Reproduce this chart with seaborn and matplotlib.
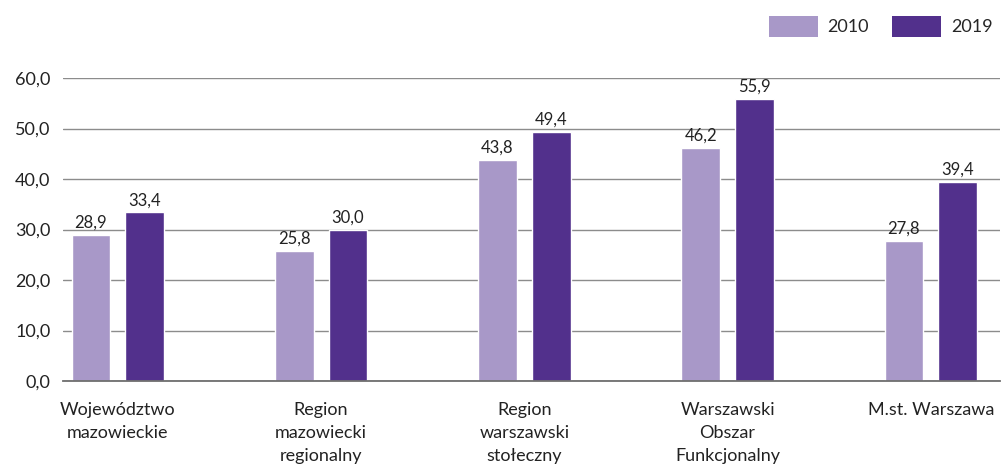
import pandas as pd
import matplotlib
matplotlib.use("Agg")
import matplotlib.pyplot as plt
import seaborn as sns
from matplotlib.patches import Patch

# ---------- data ----------
regions = ["Województwo\nmazowieckie", "Region\nmazowiecki\nregionalny",
           "Region\nwarszawski\nstołeczny", "Warszawski\nObszar\nFunkcjonalny",
           "M.st. Warszawa"]
years = ["2010", "2019"]
vals_2010 = [28.9, 25.8, 43.8, 46.2, 27.8]
vals_2019 = [33.4, 30.0, 49.4, 55.9, 39.4]
y_ticks = [0, 10, 20, 30, 40, 50, 60]

colors = ["#a898c8", "#52308c"]

df = pd.DataFrame({
    "region": regions * 2,
    "year": [years[0]] * 5 + [years[1]] * 5,
    "value": vals_2010 + vals_2019,
})

# ---------- plot ----------
sns.set_style("white")
plt.rcParams["font.family"] = ["Lato", "DejaVu Sans"]

fig = plt.figure(figsize=(10.04, 4.74), dpi=100)
ax = fig.add_axes([0.0627, 0.196, 0.9333, 0.6394])

sns.barplot(data=df, x="region", y="value", hue="year", order=regions,
            hue_order=years, palette=colors, width=0.53, gap=0.28,
            saturation=1, ax=ax, legend=False)

for cont in ax.containers:
    ax.bar_label(cont, labels=[f"{v:.1f}".replace(".", ",") for v in cont.datavalues],
                 padding=3, fontsize=12, color="#222222")

ax.set_ylim(0, 60)
ax.set_xlim(-0.27, 4.34)
ax.set_yticks(y_ticks)
ax.set_yticklabels([f"{t:.1f}".replace(".", ",") for t in y_ticks],
                   fontsize=13, color="#222222")
ax.tick_params(axis="y", length=0, pad=9)
ax.tick_params(axis="x", length=0, pad=15)
ax.set_xticks(range(len(regions)))
ax.set_xticklabels(regions, fontsize=13, color="#222222", linespacing=1.55,
                   va="top")
ax.set_xlabel("")
ax.set_ylabel("")

ax.yaxis.grid(True, color="#8c8c8c", linewidth=1)
ax.set_axisbelow(True)
for s in ["top", "right", "left"]:
    ax.spines[s].set_visible(False)
ax.spines["bottom"].set_color("#6e6e6e")
ax.spines["bottom"].set_linewidth(1.3)

# legend
handles = [Patch(facecolor=c, edgecolor="none") for c in colors]
fig.legend(handles, years, loc="upper right", bbox_to_anchor=(1.005, 1.0),
           ncol=2, frameon=False, fontsize=13, handlelength=2.7,
           handleheight=1.35, columnspacing=1.3, handletextpad=0.55)

fig.savefig("out.png", dpi=100)
